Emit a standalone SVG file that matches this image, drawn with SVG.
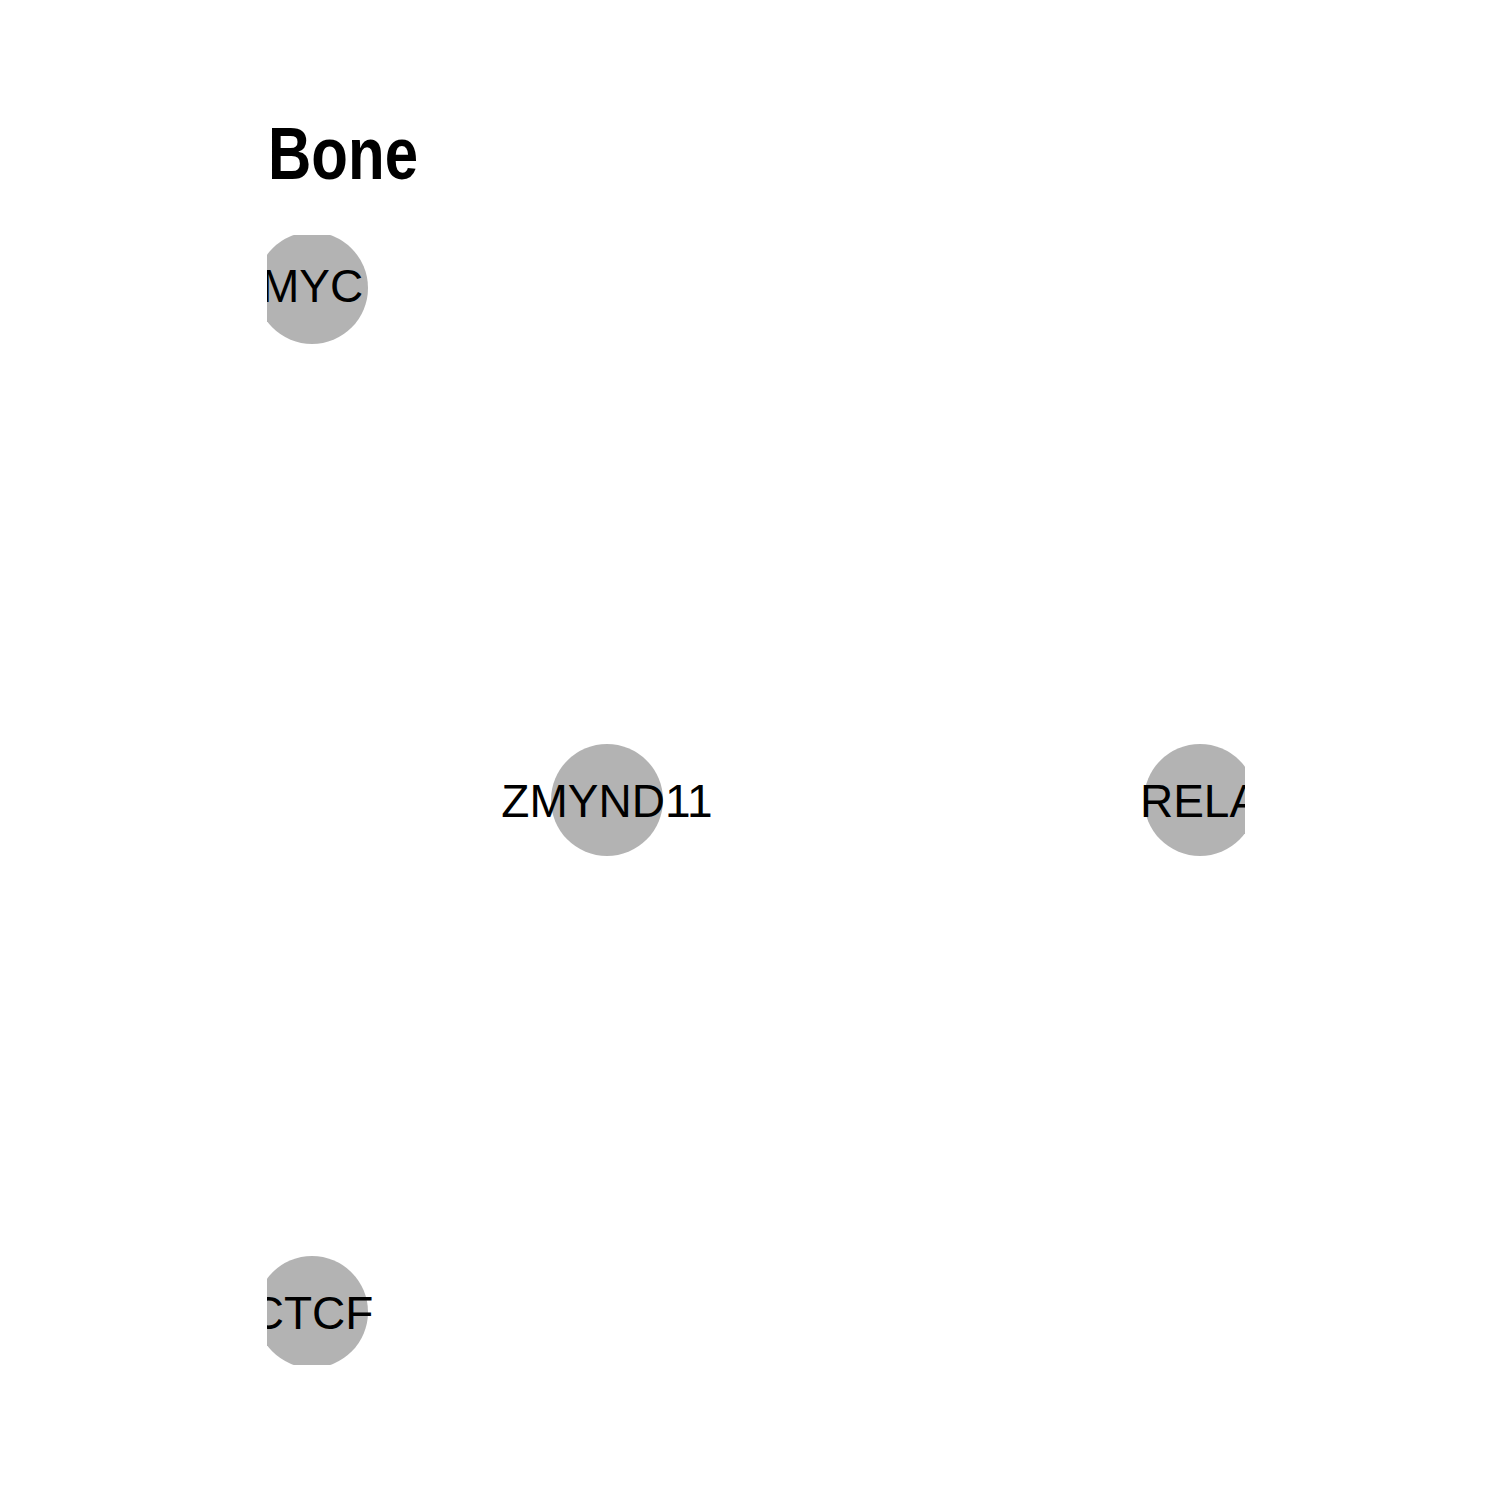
<svg xmlns="http://www.w3.org/2000/svg" width="1500" height="1500" viewBox="0 0 1500 1500">
<defs>
<style>
.node circle{fill:#b3b3b3;}
.node text{font-family:"Liberation Sans",Arial,sans-serif;font-size:46px;fill:#000;text-anchor:middle;}
.title{font-family:"Liberation Sans Narrow","Liberation Sans",Arial,sans-serif;font-weight:bold;font-size:74px;fill:#000;}
</style>
<clipPath id="panel"><rect x="267" y="235" width="978" height="1130"/></clipPath>
</defs>
<rect width="1500" height="1500" fill="#fff"/>
<text class="title" x="268" y="179" textLength="150" lengthAdjust="spacingAndGlyphs">Bone</text>
<g id="connectors"></g>
<g clip-path="url(#panel)">
<g id="node-MYC" class="node"><circle cx="312" cy="288" r="56"/><text x="312" y="302">MYC</text></g>
<g id="node-ZMYND11" class="node"><circle cx="607" cy="800" r="56"/><text x="607" y="817">ZMYND11</text></g>
<g id="node-RELA" class="node"><circle cx="1200" cy="800" r="56"/><text x="1200" y="817">RELA</text></g>
<g id="node-CTCF" class="node"><circle cx="312" cy="1312" r="56"/><text x="312" y="1329">CTCF</text></g>
</g>
</svg>
